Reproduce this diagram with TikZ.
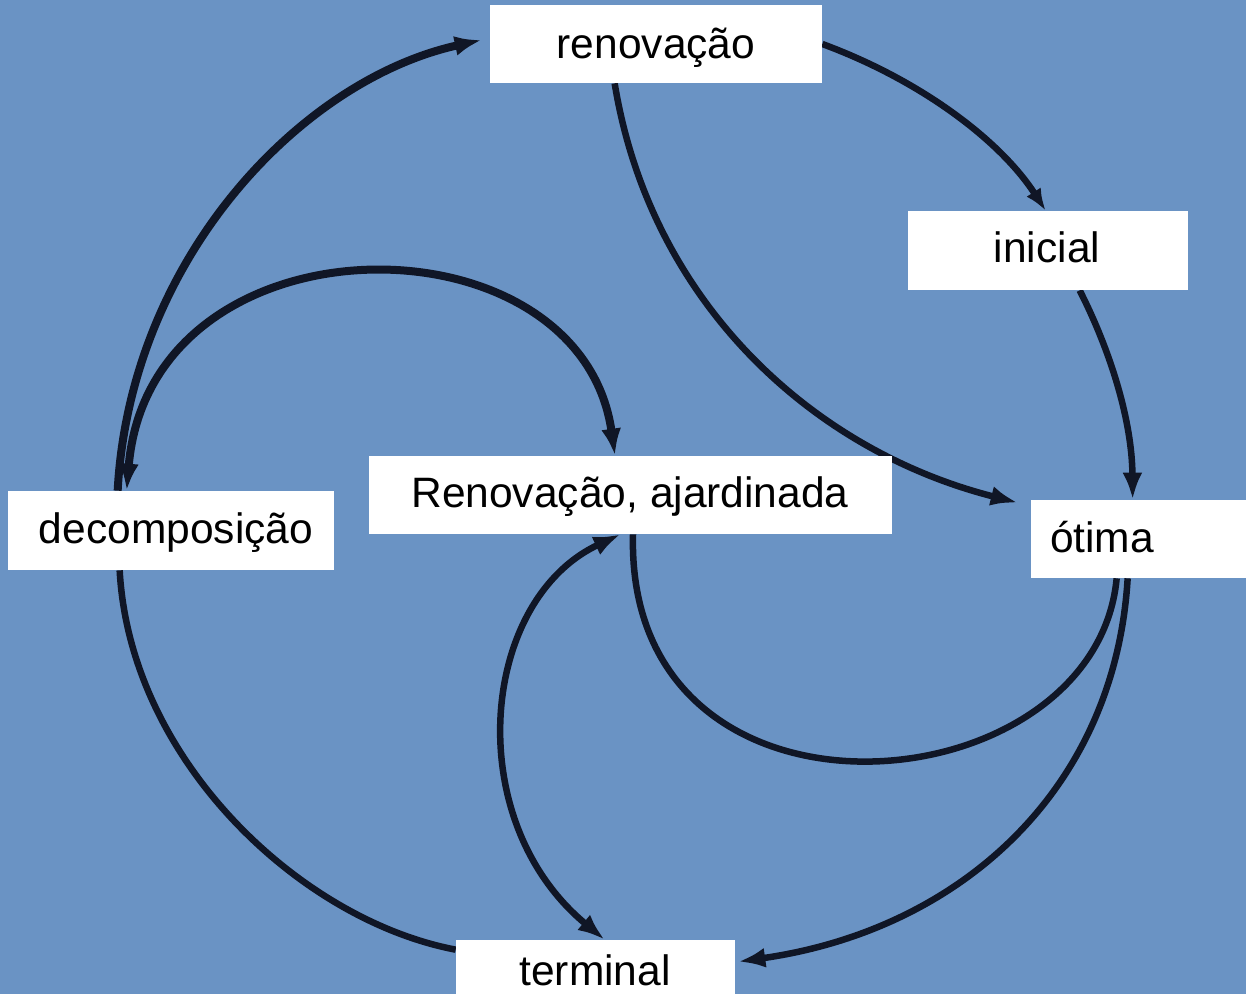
\documentclass[tikz,border=0pt]{standalone}
\usepackage{fontspec}
\setmainfont{Liberation Sans}
\usetikzlibrary{arrows.meta}
\definecolor{bg}{RGB}{106,147,196}
\definecolor{ink}{RGB}{16,22,38}
\begin{document}
\begin{tikzpicture}[x=0.02cm,y=-0.02cm,
  box/.style={fill=white, draw=none, inner sep=0pt},
  lab/.style={inner sep=0pt, anchor=base, text=black, font=\fontsize{24.2}{28}\selectfont},
  conn/.style={draw=ink, line width=0.13cm},
  heavy/.style={draw=ink, line width=0.16cm},
  tip/.style={-{Latex[length=0.54cm,width=0.4cm]}},
  tips/.style={{Latex[length=0.54cm,width=0.4cm]}-{Latex[length=0.54cm,width=0.4cm]}},
  smalltip/.style={-{Latex[length=0.44cm,width=0.34cm]}},
]
\path[use as bounding box] (0,0) rectangle (1246,994);
\clip (0,0) rectangle (1246,994);
\fill[bg] (0,0) rectangle (1246,994);

\path (656,44) node[box, minimum width=6.64cm, minimum height=1.56cm] (ren) {}
      (1048,250.5) node[box, minimum width=5.6cm, minimum height=1.58cm] (ini) {}
      (630.5,495) node[box, minimum width=10.46cm, minimum height=1.56cm] (ajd) {}
      (171,530.5) node[box, minimum width=6.52cm, minimum height=1.58cm] (dec) {}
      (1138.5,539) node[box, minimum width=4.3cm, minimum height=1.56cm] (oti) {}
      (595.5,967) node[box, minimum width=5.58cm, minimum height=1.08cm] (ter) {};

% decomposição -> renovação (outer left arc)
\draw[heavy, tip] ([xshift=2.2cm]dec.north west) .. controls (130,260) and (300,80) .. ([xshift=-0.16cm,yshift=0.08cm]ren.west);
% inner left arc (both ends)
\draw[heavy, tips] ([xshift=2.38cm]dec.north west) .. controls (150,210) and (580,210) .. ([xshift=-0.31cm]ajd.north);
% renovação -> ótima
\draw[conn, tip] ([xshift=2.5cm]ren.south west) .. controls (650,300) and (810,450) .. ([xshift=-0.26cm,yshift=-0.06cm]oti.north west);
% renovação -> inicial
\draw[conn, smalltip] (ren.east) .. controls (920,80) and (1000,140) .. ([xshift=2.76cm]ini.north west);
% inicial -> ótima
\draw[conn, tip] ([xshift=3.44cm]ini.south west) .. controls (1110,350) and (1132,420) .. ([xshift=2.04cm]oti.north west);
% ótima -> Renovação, ajardinada (inner bottom arc)
\draw[conn] ([xshift=1.72cm]oti.south west) .. controls (1095,810) and (625,850) .. ([xshift=0.05cm]ajd.south);
% ótima -> terminal
\draw[conn, tip] ([xshift=1.94cm]oti.south west) .. controls (1115,790) and (960,930) .. ([xshift=0.06cm,yshift=-0.44cm]ter.north east);
% terminal <-> Renovação, ajardinada
\draw[conn, tips] ([xshift=2.98cm]ter.north west) .. controls (460,820) and (480,600) .. ([xshift=-0.2cm]ajd.south);
% decomposição -> terminal
\draw[conn] ([xshift=2.24cm]dec.south west) .. controls (130,760) and (300,920) .. ([yshift=-0.2cm]ter.north west);

% boxes drawn on top
\fill[white] (ren.south west) rectangle (ren.north east);
\fill[white] (ini.south west) rectangle (ini.north east);
\fill[white] (ajd.south west) rectangle (ajd.north east);
\fill[white] (dec.south west) rectangle (dec.north east);
\fill[white] (oti.south west) rectangle (oti.north east);
\fill[white] (ter.south west) rectangle (ter.north east);

\node[lab] (tren) at (656,58) {renovação};
\node[lab] (tini) at (1047,262) {inicial};
\node[lab] (tajd) at (630,507) {Renovação, ajardinada};
\node[lab] (tdec) at (176,543) {decomposição};
\node[lab] (toti) at (1102,552) {ótima};
\node[lab] (tter) at (595,985) {terminal};
\end{tikzpicture}
\end{document}
